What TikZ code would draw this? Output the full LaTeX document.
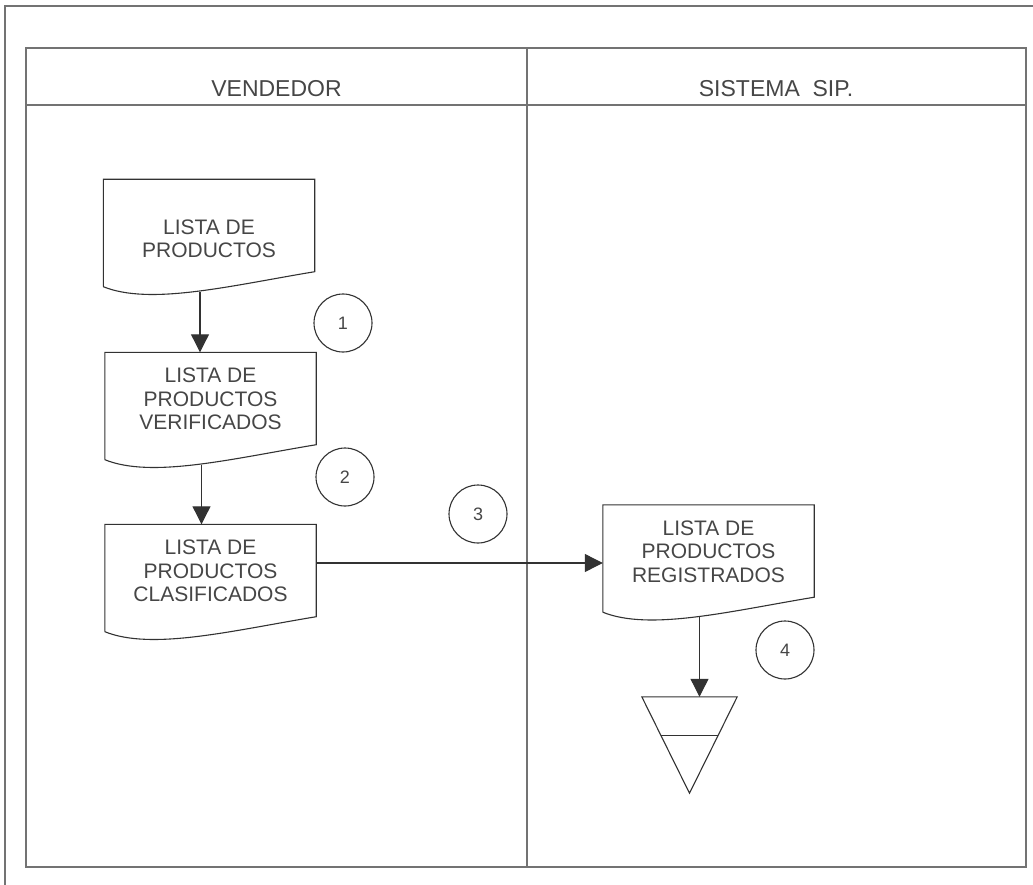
\documentclass[tikz,border=0pt]{standalone}
\usepackage{fontspec}
\setmainfont{Liberation Sans}
\usetikzlibrary{arrows.meta,calc}
\definecolor{ink}{RGB}{50,50,50}
\definecolor{txt}{RGB}{70,70,70}
\definecolor{frame}{RGB}{115,115,115}
\begin{document}
\begin{tikzpicture}[x=1pt,y=-1pt,
  doc/.style={minimum width=211pt, minimum height=107pt, inner sep=0pt, draw=none},
  doctext/.style={align=center, font=\fontsize{21}{23.5}\selectfont, text=txt, inner sep=0pt},
  numc/.style={circle, draw=ink, line width=1.1pt, minimum size=58pt, inner sep=0pt,
    font=\fontsize{18}{20}\selectfont, text=txt},
  arr/.style={draw=ink, line width=1.1pt, -{Triangle[length=18pt,width=18pt]}},
  shp/.style={draw=ink, line width=1.1pt},
  frm/.style={draw=frame, line width=1.3pt},
  hdr/.style={anchor=base, font=\fontsize{23}{27}\selectfont, text=txt, inner sep=0pt},
  arch/.style={minimum width=95pt, minimum height=96pt, inner sep=0pt, draw=none}]
\useasboundingbox (0,0) rectangle (1033,885);
% frames
\draw[frm] (5,885) -- (5,6) -- (1033,6);
\draw[frm] (26,48) rectangle (1026,867);
\draw[frm] (26,105) -- (1026,105);
\draw[frm] (527,48) -- (527,867);
\node[hdr] (h1) at (276.5,97) {VENDEDOR};
\node[hdr] (h2) at (776,97) {SISTEMA\ \ SIP.};
% documents
\node[doc, label={[doctext, yshift=-6pt]center:{LISTA DE\\PRODUCTOS}}] (d1) at (209,233) {};
\node[doc, label={[doctext, yshift=7pt]center:{LISTA DE\\PRODUCTOS\\VERIFICADOS}}] (d2) at (210.5,406) {};
\node[doc, label={[doctext, yshift=7pt]center:{LISTA DE\\PRODUCTOS\\CLASIFICADOS}}] (d3) at (210.5,578) {};
\node[doc, label={[doctext, yshift=7pt]center:{LISTA DE\\PRODUCTOS\\REGISTRADOS}}] (d4) at (708.5,558.5) {};
\foreach \n in {d1,d2,d3,d4}
  \draw[shp] (\n.south west) -- (\n.north west) -- (\n.north east) -- ([yshift=15pt]\n.south east)
    .. controls ([xshift=127pt,yshift=1pt]\n.south west) and ([xshift=47pt,yshift=-19pt]\n.south west) .. (\n.south west);
% archive
\node[arch] (ar) at (689.5,745) {};
\draw[shp] (ar.north west) -- (ar.north east) -- (ar.south) -- cycle;
\draw[shp] ($(ar.north west)!0.406!(ar.south)$) -- ($(ar.north east)!0.406!(ar.south)$);
% numbered circles
\node[numc] (c1) at (343,323) {1};
\node[numc] (c2) at (345,477) {2};
\node[numc] (c3) at (478,514) {3};
\node[numc] (c4) at (785,650) {4};
% connectors
\coordinate (a1) at ([xshift=-9pt,yshift=-5pt]d1.south);
\coordinate (a2) at ([xshift=-9pt,yshift=-5pt]d2.south);
\coordinate (a3) at ([yshift=15pt]d3.east);
\coordinate (a4) at ([xshift=-9pt,yshift=-5pt]d4.south);
\draw[arr] (a1) -- (a1 |- d2.north);
\draw[arr] (a2) -- (a2 |- d3.north);
\draw[arr] (a3) -- (a3 -| d4.west);
\draw[arr] (a4) -- (a4 |- ar.north);
\end{tikzpicture}
\end{document}
